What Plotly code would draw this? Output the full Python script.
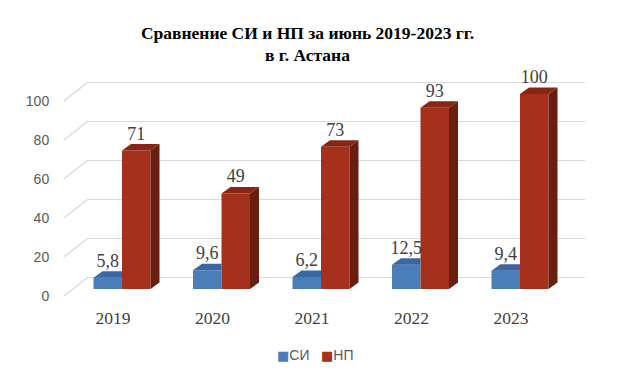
import plotly.graph_objects as go

# ---- data ----
years = ["2019", "2020", "2021", "2022", "2023"]
si = [5.8, 9.6, 6.2, 12.5, 9.4]
np_vals = [71, 49, 73, 93, 100]
y_ticks = [0, 20, 40, 60, 80, 100]
series_names = ["СИ", "НП"]
title_text = "<b>Сравнение СИ и НП за июнь 2019-2023 гг.<br>в г. Астана</b>"

# ---- geometry (pixels) ----
W, H = 624, 379
PL, PR, PT, PB = 88, 585, 60, 305          # plot area
SCALE = 1.95                                # px per unit
ZERO_BAR, ZERO_GRID, ZERO_LAB = 289, 277, 296
X_FIRST, X_STEP = 122, 99.5
BAR_W = 0.2864
DX = 9 / X_STEP
DY = 6.5 / SCALE
FRONT_X = 64


def yrange(zero_px):
    return [-(PB - zero_px) / SCALE, (zero_px - PT) / SCALE]


def xpaper(px):
    return (px - PL) / (PR - PL)


xr = [-(X_FIRST - PL) / X_STEP, 4 + (PR - (X_FIRST + 4 * X_STEP)) / X_STEP]
idx = list(range(len(years)))

C_BLUE, C_BLUE_TOP = "#4A7EBB", "#3B66A2"
C_RED, C_RED_TOP, C_RED_SIDE = "#A5301C", "#872614", "#6A1E10"
colors = [C_BLUE, C_RED]

fig = go.Figure()

fig.add_trace(go.Bar(x=idx, y=si, width=BAR_W, offset=-BAR_W, name=series_names[0],
                     marker=dict(color=C_BLUE, line=dict(width=0)), showlegend=False))
fig.add_trace(go.Bar(x=idx, y=np_vals, width=BAR_W, offset=0, name=series_names[1],
                     marker=dict(color=C_RED, line=dict(width=0)), showlegend=False))

# 3D faces derived from data
bx, by = [], []
for i, v in zip(idx, si):
    bx += [i - BAR_W, i, i, i - BAR_W + DX, i - BAR_W, None]
    by += [v, v, v + DY, v + DY, v, None]
fig.add_trace(go.Scatter(x=bx, y=by, mode="lines", fill="toself", fillcolor=C_BLUE_TOP,
                         line=dict(width=0), showlegend=False, hoverinfo="skip"))

sx, sy, tx, ty = [], [], [], []
for i, v in zip(idx, np_vals):
    sx += [i + BAR_W, i + BAR_W, i + BAR_W + DX, i + BAR_W + DX, i + BAR_W, None]
    sy += [0, v, v + DY, DY, 0, None]
    tx += [i, i + BAR_W, i + BAR_W + DX, i + DX, i, None]
    ty += [v, v, v + DY, v + DY, v, None]
fig.add_trace(go.Scatter(x=sx, y=sy, mode="lines", fill="toself", fillcolor=C_RED_SIDE,
                         line=dict(width=0), showlegend=False, hoverinfo="skip"))
fig.add_trace(go.Scatter(x=tx, y=ty, mode="lines", fill="toself", fillcolor=C_RED_TOP,
                         line=dict(width=0), showlegend=False, hoverinfo="skip"))


def fmt(v):
    return str(v).replace(".", ",")


lab_font = dict(family="Liberation Serif", size=18, color="#404040")
fig.add_trace(go.Scatter(x=[i - BAR_W / 2 for i in idx], y=[v + DY for v in si],
                         text=[fmt(v) for v in si], mode="text", textposition="top center",
                         textfont=lab_font, showlegend=False, hoverinfo="skip"))
fig.add_trace(go.Scatter(x=[i + BAR_W / 2 for i in idx], y=[v + DY for v in np_vals],
                         text=[fmt(v) for v in np_vals], mode="text", textposition="top center",
                         textfont=lab_font, showlegend=False, hoverinfo="skip"))

# dummy traces to instantiate the overlay axes
fig.add_trace(go.Scatter(x=[None], y=[None], yaxis="y2", showlegend=False, hoverinfo="skip"))
fig.add_trace(go.Scatter(x=[None], y=[None], yaxis="y3", showlegend=False, hoverinfo="skip"))

# perspective diagonals for gridlines
front_paper = xpaper(FRONT_X)
shift = (ZERO_LAB - ZERO_GRID) / SCALE
for v in y_ticks:
    fig.add_shape(type="line", xref="paper", yref="y2", x0=front_paper, x1=0,
                  y0=v - shift, y1=v, line=dict(color="#D9D9D9", width=1.3), layer="below")

# compact legend (square swatch + name)
legend_y = (PB - 355) / (PB - PT)
for name, col, px in zip(series_names, colors, [275, 319]):
    fig.add_annotation(xref="paper", yref="paper", x=xpaper(px), y=legend_y,
                       xanchor="left", yanchor="middle", showarrow=False,
                       text=(f"<span style='color:{col};font-family:DejaVu Sans;"
                             f"font-size:13px'>■</span>{name}"),
                       font=dict(family="Liberation Sans", size=14, color="#595959"))

fig.update_layout(
    width=W, height=H,
    margin=dict(l=PL, r=W - PR, t=PT, b=H - PB),
    paper_bgcolor="white", plot_bgcolor="rgba(0,0,0,0)",
    barmode="overlay",
    title=dict(text=title_text, x=0.5 - 4.5 / W, xanchor="center", y=1 - 38.5 / H,
               yanchor="middle",
               font=dict(family="Liberation Serif", size=17.5, color="black")),
    xaxis=dict(range=xr, tickvals=[i - 0.09 for i in idx], ticktext=years,
               showgrid=False, zeroline=False, showline=False, ticks="",
               tickfont=dict(family="Liberation Serif", size=17.5, color="#404040")),
    yaxis=dict(range=yrange(ZERO_BAR), visible=False),
    yaxis2=dict(range=yrange(ZERO_GRID), overlaying="y", showgrid=True, gridcolor="#D9D9D9",
                gridwidth=1.3, tickvals=y_ticks, showticklabels=False, zeroline=False,
                showline=False, layer="below traces"),
    yaxis3=dict(range=yrange(ZERO_LAB), overlaying="y", showgrid=False, tickvals=y_ticks,
                zeroline=False, showline=False, ticks="outside", ticklen=35,
                tickcolor="rgba(0,0,0,0)",
                tickfont=dict(family="Liberation Sans", size=14, color="#595959")),
    showlegend=False,
)

fig.write_html("out.html")
